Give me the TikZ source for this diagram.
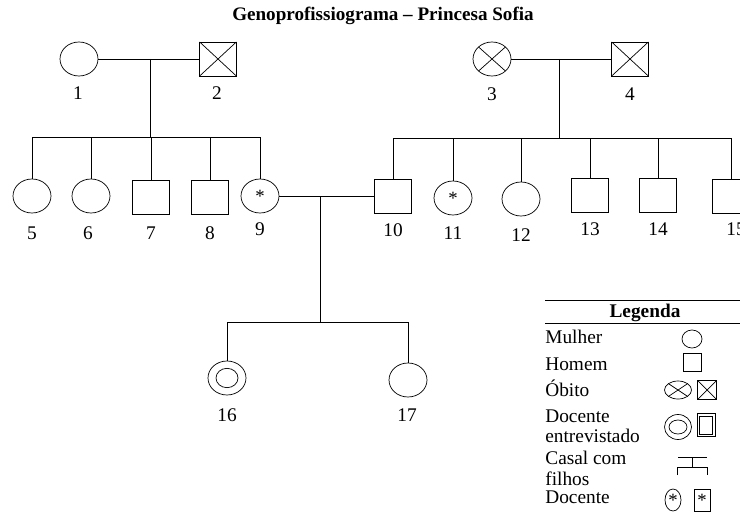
\documentclass[tikz,border=0pt]{standalone}
\usepackage{fontspec}
\setmainfont{Liberation Serif}
\usetikzlibrary{shapes.geometric}
\tikzset{
	fem/.style={draw, ellipse, minimum width=1.14cm, minimum height=1.02cm, inner sep=0pt, font=\fontsize{16}{18}\selectfont},
	masc/.style={draw, rectangle, minimum width=1.1cm, minimum height=1.02cm, inner sep=0pt, font=\fontsize{16}{18}\selectfont},
	obito/.style={path picture={\draw (path picture bounding box.north west) -- (path picture bounding box.south east)
		(path picture bounding box.north east) -- (path picture bounding box.south west);}},
	entrev/.style={path picture={\draw (path picture bounding box.center) ellipse [x radius=#1];}},
	entrevq/.style={path picture={\draw ([shift={(#1,-#1)}]path picture bounding box.north west) rectangle ([shift={(-#1,#1)}]path picture bounding box.south east);}},
	num/.style={font=\fontsize{16.5}{18}\selectfont, inner sep=0pt},
	legtxt/.style={font=\fontsize{16.5}{18}\selectfont, anchor=base west, inner sep=0pt},
}
\begin{document}
\begin{tikzpicture}[x=0.03cm, y=-0.03cm, line width=0.6pt]
			\clip (0,0) rectangle (740,512);
			\node[font=\bfseries\fontsize{16.3}{18}\selectfont, anchor=base] (titulo) at (383,21) {Genoprofissiograma – Princesa Sofia};

			\node[fem] (n1) at (79,59) {};
			\node[masc, obito] (n2) at (218,59) {};
			\node[fem, obito] (n3) at (492,59) {};
			\node[masc, obito] (n4) at (630,59) {};
			\draw (n1) -- (n2);
			\draw (n3) -- (n4);
			\node[num] (l1) at (78,93) {1};
			\node[num] (l2) at (217,93) {2};
			\node[num] (l3) at (492,94) {3};
			\node[num] (l4) at (630,94) {4};

			\coordinate (u12) at (150,59);
			\coordinate (s12) at (150,137);
			\coordinate (u34) at (559,59);
			\coordinate (s34) at (559,138);
			\draw (u12) -- (s12);
			\draw (u34) -- (s34);

			\node[fem] (n5) at (32,196) {};
			\node[fem] (n6) at (91,196) {};
			\node[masc] (n7) at (151,197) {};
			\node[masc] (n8) at (210,197) {};
			\node[fem] (n9) at (260,196) {*};
			\node[masc] (n10) at (393,196) {};
			\node[fem] (n11) at (453,198) {*};
			\node[fem] (n12) at (521,199) {};
			\node[masc] (n13) at (590,195) {};
			\node[masc] (n14) at (658,195) {};
			\node[masc] (n15) at (731,196) {};
			\foreach \k in {5,...,9}
				\draw (n\k.north) |- (s12);
			\foreach \k in {10,...,15}
				\draw (n\k.north) |- (s34);

			\node[num] (l5) at (32,233) {5};
			\node[num] (l6) at (88,233) {6};
			\node[num] (l7) at (151,233) {7};
			\node[num] (l8) at (210,233) {8};
			\node[num] (l9) at (260,229) {9};
			\node[num] (l10) at (393,230) {10};
			\node[num] (l11) at (453,233) {11};
			\node[num] (l12) at (521,235) {12};
			\node[num] (l13) at (590,229) {13};
			\node[num] (l14) at (658,229) {14};
			\node[num] (l15) at (736,229) {15};

			\draw (n9) -- (n10);
			\coordinate (u910) at (320,196);
			\coordinate (s910) at (320,322);
			\draw (u910) -- (s910);
			\node[fem, entrev={0.33cm, y radius=0.29cm}] (n16) at (227,378) {};
			\node[fem] (n17) at (408,380) {};
			\draw (n16.north) |- (s910);
			\draw (n17.north) |- (s910);
			\node[num] (l16) at (227,415) {16};
			\node[num] (l17) at (407,415) {17};

			\draw (545,300) -- (740,300);
			\draw (545,323) -- (740,323);
			\node[font=\bfseries\fontsize{16.5}{18}\selectfont, anchor=base, inner sep=0pt] (legenda) at (645,317) {Legenda};
			\node[legtxt] (tm) at (545,343) {Mulher};
			\node[legtxt] (th) at (545,370) {Homem};
			\node[legtxt] (to) at (545,396) {Óbito};
			\node[legtxt] (te) at (545,422) {Docente};
			\node[legtxt] (te2) at (545,442) {entrevistado};
			\node[legtxt] (tc) at (545,464) {Casal com};
			\node[legtxt] (tc2) at (545,485) {filhos};
			\node[legtxt] (td) at (545,503) {Docente};

			\node[fem, minimum width=0.6cm, minimum height=0.54cm] (sm) at (692,339) {};
			\node[masc, minimum width=0.54cm, minimum height=0.54cm] (sh) at (692,362) {};
			\node[fem, obito, minimum width=0.81cm, minimum height=0.54cm] (so1) at (678,390) {};
			\node[masc, obito, minimum width=0.57cm, minimum height=0.57cm] (so2) at (707,390) {};
			\node[fem, entrev={0.27cm, y radius=0.21cm}, minimum width=0.81cm, minimum height=0.75cm] (se1) at (678,427) {};
			\node[masc, entrevq=2.2pt, minimum width=0.54cm, minimum height=0.7cm] (se2) at (706,425) {};
			\draw (678,457) -- (707,457);
			\draw (692,457) -- (692,467);
			\draw (677,475) -- (677,467) -- (707,467) -- (707,475);
			\node[fem, minimum width=0.48cm, minimum height=0.66cm] (sd1) at (673,500) {*};
			\node[masc, minimum width=0.48cm, minimum height=0.66cm] (sd2) at (702,500) {*};
\end{tikzpicture}
\end{document}
